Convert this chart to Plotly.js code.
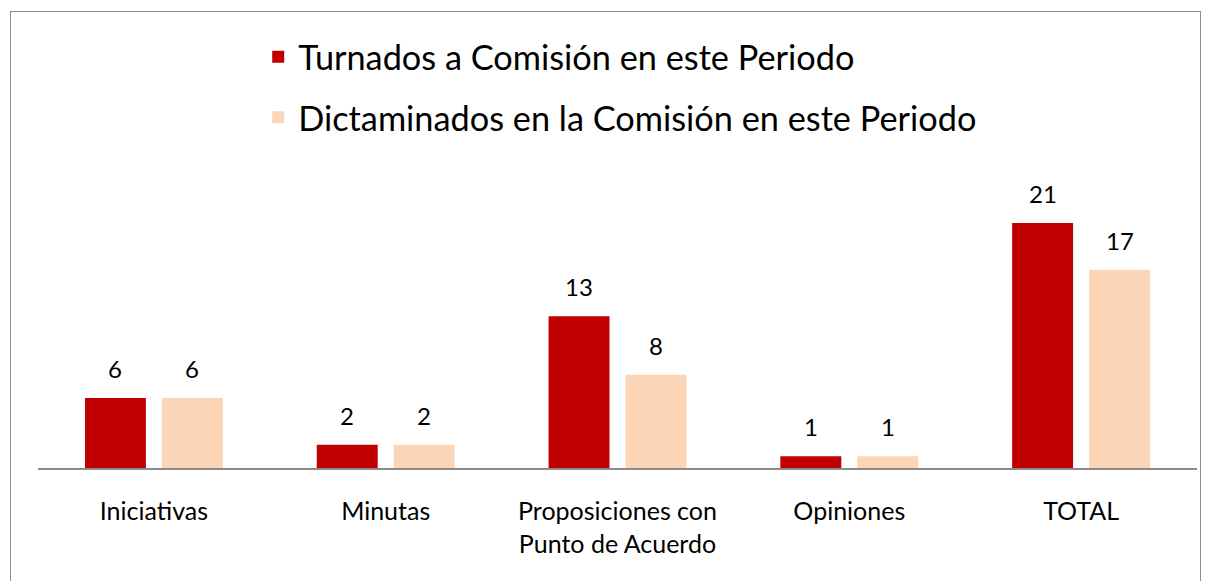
<!DOCTYPE html>
<html>
<head>
<meta charset="utf-8">
<script src="https://cdn.plot.ly/plotly-3.0.1.min.js"></script>
<style>
  body { margin: 0; background: #fff; }
  #frame { position: absolute; left: 10px; top: 11px; width: 1189px; height: 600px;
           border: 1.5px solid #8c8c8c; pointer-events: none; }
</style>
</head>
<body>
<div id="myPlot" style="width:1209px;height:581px;"></div>
<div id="frame"></div>
<script>
const categories = ["Iniciativas", "Minutas", "Proposiciones con<br>Punto de Acuerdo", "Opiniones", "TOTAL"];
const turnados = [6, 2, 13, 1, 21];
const dictaminados = [6, 2, 8, 1, 17];
const seriesNames = ["Turnados a Comisión en este Periodo", "Dictaminados en la Comisión en este Periodo"];

const font = "Lato, 'Open Sans', sans-serif";

const data = [
    { x: categories, y: turnados, type: "bar", name: seriesNames[0], legendgroup: "a",
      marker: { color: "#C00000" }, hoverinfo: "y" },
    { x: categories, y: dictaminados, type: "bar", name: seriesNames[1], legendgroup: "b",
      marker: { color: "#FBD5B5" }, hoverinfo: "y" }
];

// value labels above each bar
const annotations = [];
categories.forEach(function (c, i) {
    annotations.push({ x: c, y: turnados[i], text: String(turnados[i]), showarrow: false,
        xref: "x", yref: "y", yanchor: "bottom", xshift: -38.5, yshift: 13,
        font: { size: 24, color: "#000", family: font } });
    annotations.push({ x: c, y: dictaminados[i], text: String(dictaminados[i]), showarrow: false,
        xref: "x", yref: "y", yanchor: "bottom", xshift: 38.5, yshift: 13,
        font: { size: 24, color: "#000", family: font } });
});

const layout = {
    width: 1209,
    height: 581,
    margin: { l: 38, r: 12, t: 188, b: 113 },
    paper_bgcolor: "#fff",
    plot_bgcolor: "#fff",
    font: { family: font, color: "#000" },
    bargap: 0.336,
    bargroupgap: 0.208,
    showlegend: true,
    legend: {
        x: 0.19, xanchor: "left", y: 1.572, yanchor: "top",
        orientation: "v", traceorder: "grouped", tracegroupgap: 13,
        font: { size: 34.3, family: font, color: "#000" },
        bgcolor: "rgba(0,0,0,0)"
    },
    xaxis: {
        type: "category",
        showline: true, linecolor: "#8c8c8c", linewidth: 2,
        ticks: "", ticklabelstandoff: 20,
        tickfont: { size: 25, family: font, color: "#000" },
        fixedrange: true
    },
    yaxis: {
        range: [0, 24],
        showgrid: false, zeroline: false, showticklabels: false, showline: false,
        fixedrange: true
    },
    annotations: annotations
};

Plotly.newPlot("myPlot", data, layout, { displayModeBar: false, staticPlot: true });
</script>
</body>
</html>
